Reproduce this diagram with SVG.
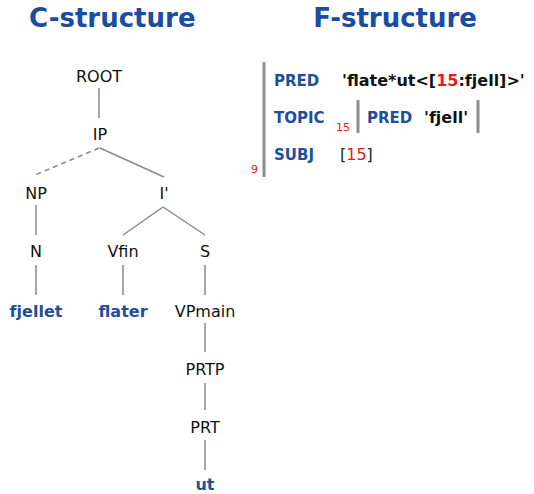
<svg xmlns="http://www.w3.org/2000/svg" width="534" height="494" viewBox="0 0 534 494">
  <style>
    .title { font-family: "DejaVu Sans", Verdana, sans-serif; font-weight: bold; font-size: 26px; fill: #1a4d9f; }
    .cat { font-family: "DejaVu Sans", sans-serif; font-size: 16px; fill: #111; text-anchor: middle; }
    .word { font-family: "DejaVu Sans", sans-serif; font-weight: bold; font-size: 16px; fill: #1d4f9c; text-anchor: middle; }
    .attr { font-family: "DejaVu Sans", Verdana, sans-serif; font-weight: bold; font-size: 15px; fill: #1d4f9c; }
    .val { font-family: "DejaVu Sans", Verdana, sans-serif; font-weight: bold; font-size: 16px; fill: #111; }
    .plain { font-family: "DejaVu Sans", sans-serif; font-size: 16px; fill: #222; }
    .idx { font-family: "DejaVu Sans", sans-serif; font-size: 11px; fill: #e8191c; }
    .red { fill: #e8191c; }
    .edge { stroke: #8a8a8a; stroke-width: 1.5; fill: none; }
    .dashed { stroke-dasharray: 5 4; }
    .bar { stroke: #8c8c8c; stroke-width: 3; }
  </style>

  <text class="title" x="29" y="27">C-structure</text>
  <text class="title" x="477" y="27" text-anchor="end">F-structure</text>

  <!-- tree edges -->
  <g id="connectors">
    <line class="edge" x1="99" y1="88" x2="99" y2="118"/>
    <line class="edge dashed" x1="99" y1="148" x2="35" y2="175"/>
    <line class="edge" x1="100" y1="148" x2="164" y2="177"/>
    <line class="edge" x1="36" y1="205" x2="36" y2="235"/>
    <line class="edge" x1="36" y1="265" x2="36" y2="295"/>
    <line class="edge" x1="163" y1="207" x2="123" y2="235"/>
    <line class="edge" x1="163" y1="207" x2="205" y2="235"/>
    <line class="edge" x1="123" y1="265" x2="123" y2="295"/>
    <line class="edge" x1="205" y1="265" x2="205" y2="295"/>
    <line class="edge" x1="205" y1="323" x2="205" y2="352"/>
    <line class="edge" x1="205" y1="383" x2="205" y2="410"/>
    <line class="edge" x1="205" y1="440" x2="205" y2="470"/>
  </g>

  <!-- tree nodes -->
  <g id="n-root"><text class="cat" x="99" y="82">ROOT</text></g>
  <g id="n-ip"><text class="cat" x="100" y="140">IP</text></g>
  <g id="n-np"><text class="cat" x="36" y="199">NP</text></g>
  <g id="n-ibar"><text class="cat" x="164" y="199">I'</text></g>
  <g id="n-n"><text class="cat" x="36" y="257">N</text></g>
  <g id="n-vfin"><text class="cat" x="123" y="257">Vfin</text></g>
  <g id="n-s"><text class="cat" x="205" y="257">S</text></g>
  <g id="n-fjellet"><text class="word" x="36" y="317">fjellet</text></g>
  <g id="n-flater"><text class="word" x="123" y="317">flater</text></g>
  <g id="n-vpmain"><text class="cat" x="205" y="317">VPmain</text></g>
  <g id="n-prtp"><text class="cat" x="205" y="375">PRTP</text></g>
  <g id="n-prt"><text class="cat" x="205" y="433">PRT</text></g>
  <g id="n-ut"><text class="word" x="205" y="490">ut</text></g>

  <!-- f-structure -->
  <g id="fstruct">
    <line class="bar" x1="264" y1="62" x2="264" y2="177"/>
    <text class="idx" x="251" y="173">9</text>

    <text class="attr" x="274" y="86">PRED</text>
    <text class="val" x="342" y="86">'flate*ut&lt;[<tspan class="red">15</tspan>:fjell]&gt;'</text>

    <text class="attr" x="274" y="123">TOPIC</text>
    <text class="idx" x="336" y="131">15</text>
    <g id="f-topic">
      <line class="bar" x1="358" y1="100" x2="358" y2="133"/>
      <text class="attr" x="367" y="123">PRED</text>
      <text class="val" x="424" y="123">'fjell'</text>
      <line class="bar" x1="478" y1="100" x2="478" y2="133"/>
    </g>

    <text class="attr" x="274" y="160">SUBJ</text>
    <text class="plain" x="340" y="160">[<tspan class="red">15</tspan>]</text>
  </g>
</svg>
